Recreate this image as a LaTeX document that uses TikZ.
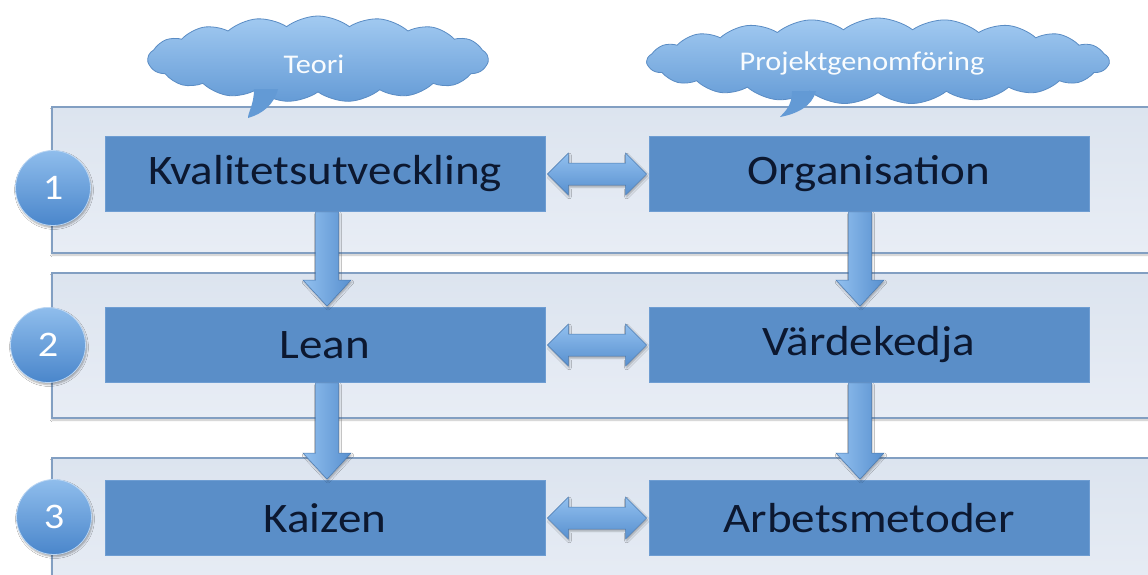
\documentclass[tikz,border=0pt]{standalone}
\usepackage{fontspec}
\setmainfont{Carlito}[FakeStretch=1.12]
\usetikzlibrary{calc,shapes.symbols,shadows.blur}

\definecolor{boxblue}{HTML}{5A8EC8}
\definecolor{boxedge}{HTML}{6E9DD2}
\definecolor{boxtext}{HTML}{0C1830}
\definecolor{bandfill}{HTML}{DCE4EF}
\definecolor{bandfilllow}{HTML}{E8EDF5}
\definecolor{bandedge}{HTML}{829FC2}
\definecolor{lightblue}{HTML}{A2CAF1}
\definecolor{midblue}{HTML}{5E96D3}
\definecolor{arrowlight}{HTML}{92C0EF}
\definecolor{arrowdark}{HTML}{5890CF}
\definecolor{circtop}{HTML}{8FBDEC}
\definecolor{circlow}{HTML}{4A86CB}
\definecolor{cloudedge}{HTML}{5A8CC4}

\tikzset{
  band/.style={draw=bandedge, line width=1.2pt, top color=bandfill, bottom color=bandfilllow,
    blur shadow={shadow xshift=0pt, shadow yshift=-2pt, shadow blur steps=4, shadow opacity=25}},
  stagebox/.style={rectangle, fill=boxblue, draw=boxedge, line width=0.8pt,
    minimum width=440pt, minimum height=75pt, inner sep=0pt,
    text=boxtext, font=\fontsize{42}{46}\selectfont},
  stagenum/.style={circle, minimum size=75pt, inner sep=0pt, draw=white!40!circtop, line width=0.8pt,
    top color=circtop, bottom color=circlow, text=white,
    font=\fontsize{36}{40}\selectfont,
    blur shadow={shadow xshift=1pt, shadow yshift=-2pt, shadow blur steps=4, shadow opacity=35}},
  topic/.style={cloud, cloud puffs=17, cloud puff arc=75, aspect=4.2, inner sep=0pt,
    minimum width=340pt, minimum height=86pt, draw=cloudedge, line width=0.8pt,
    top color=lightblue, bottom color=midblue!90!lightblue},
  toptext/.style={text=white!94!lightblue, font=\fontsize{27}{30}\selectfont},
  fatarrow/.style={draw=arrowdark!85!black, line width=0.5pt, left color=arrowlight, right color=arrowdark,
    blur shadow={shadow xshift=1pt, shadow yshift=-2pt, shadow blur steps=3, shadow opacity=30}},
  fatarrowh/.style={draw=arrowdark!85!black, line width=0.5pt, top color=arrowlight, bottom color=arrowdark,
    blur shadow={shadow xshift=1pt, shadow yshift=-2pt, shadow blur steps=3, shadow opacity=30}},
  tail/.style={fill=midblue!92!lightblue}
}

% broad downward arrow from the bottom of #1 to the top of #2, shifted sideways by #3
\newcommand\flowdown[3]{%
  \path[fatarrow] let \p1=(#1.south), \p2=(#2.north) in
    (\x1+#3-11.5pt,\y1) -- (\x1+#3-11.5pt,\y2+27pt) -- (\x1+#3-24pt,\y2+27pt) --
    (\x1+#3,\y2+1pt) -- (\x1+#3+24pt,\y2+27pt) -- (\x1+#3+11.5pt,\y2+27pt) --
    (\x1+#3+11.5pt,\y1) -- cycle;}

% broad two-headed arrow between the facing sides of #1 and #2
\newcommand\linkboth[2]{%
  \path[fatarrowh] let \p1=(#1.east), \p2=(#2.west) in
    (\x1+2pt,\y1) -- (\x1+23pt,\y1+21pt) -- (\x1+23pt,\y1+11pt) --
    (\x2-23pt,\y1+11pt) -- (\x2-23pt,\y1+21pt) -- (\x2-2pt,\y1) --
    (\x2-23pt,\y1-21pt) -- (\x2-23pt,\y1-11pt) -- (\x1+23pt,\y1-11pt) --
    (\x1+23pt,\y1-21pt) -- cycle;}

\begin{document}
\begin{tikzpicture}[x=1pt, y=-1pt]
  \useasboundingbox (0,0) rectangle (1148,574);
  \fill[white] (0,0) rectangle (1148,574);
  \clip (0,0) rectangle (1148,574);

  % three horizontal stage bands
  \path[band] (52,107) rectangle (1170,253);
  \path[band] (52,273) rectangle (1170,418);
  \path[band] (52,458) rectangle (1170,600);

  % stage contents
  \node[stagebox] (kval) at (325,174) {Kvalitetsutveckling};
  \node[stagebox] (org)  at (869,174) {Organisation};
  \node[stagebox] (lean) at (325,345) {Lean};
  \node[stagebox] (varde) at (869,345) {Värdekedja};
  \node[stagebox] (kaiz) at (325,518) {Kaizen};
  \node[stagebox] (arb)  at (869,518) {Arbetsmetoder};

  % stage numbers
  \node[stagenum] (n1) at (53,188) {1};
  \node[stagenum] (n2) at (48,345) {2};
  \node[stagenum] (n3) at (54,517) {3};

  % connections between the stages
  \flowdown{kval}{lean}{2pt}
  \flowdown{lean}{kaiz}{2pt}
  \flowdown{org}{varde}{-9pt}
  \flowdown{varde}{arb}{-9pt}
  \linkboth{kval}{org}
  \linkboth{lean}{varde}
  \linkboth{kaiz}{arb}

  % column headings as clouds with a short pointer tail
  \node[topic] (teori) at (318,59) {};
  \node[topic, minimum width=462pt, aspect=5.6, cloud puffs=21] (proj) at (878,61) {};
  \path[tail] ($(teori.center)+(-64,30)$) .. controls ($(teori.center)+(-64,46)$) and ($(teori.center)+(-70,53)$) ..
    ($(teori.center)+(-70,59)$) .. controls ($(teori.center)+(-56,55)$) and ($(teori.center)+(-44,46)$) ..
    ($(teori.center)+(-40,30)$) -- cycle;
  \path[tail] ($(proj.center)+(-86,30)$) .. controls ($(proj.center)+(-86,46)$) and ($(proj.center)+(-94,51)$) ..
    ($(proj.center)+(-98,56)$) .. controls ($(proj.center)+(-82,53)$) and ($(proj.center)+(-66,46)$) ..
    ($(proj.center)+(-62,30)$) -- cycle;
  \node[toptext] (teorit) at (314,64) {Teori};
  \node[toptext] (projt) at (862,63) {Projektgenomföring};
\end{tikzpicture}
\end{document}
